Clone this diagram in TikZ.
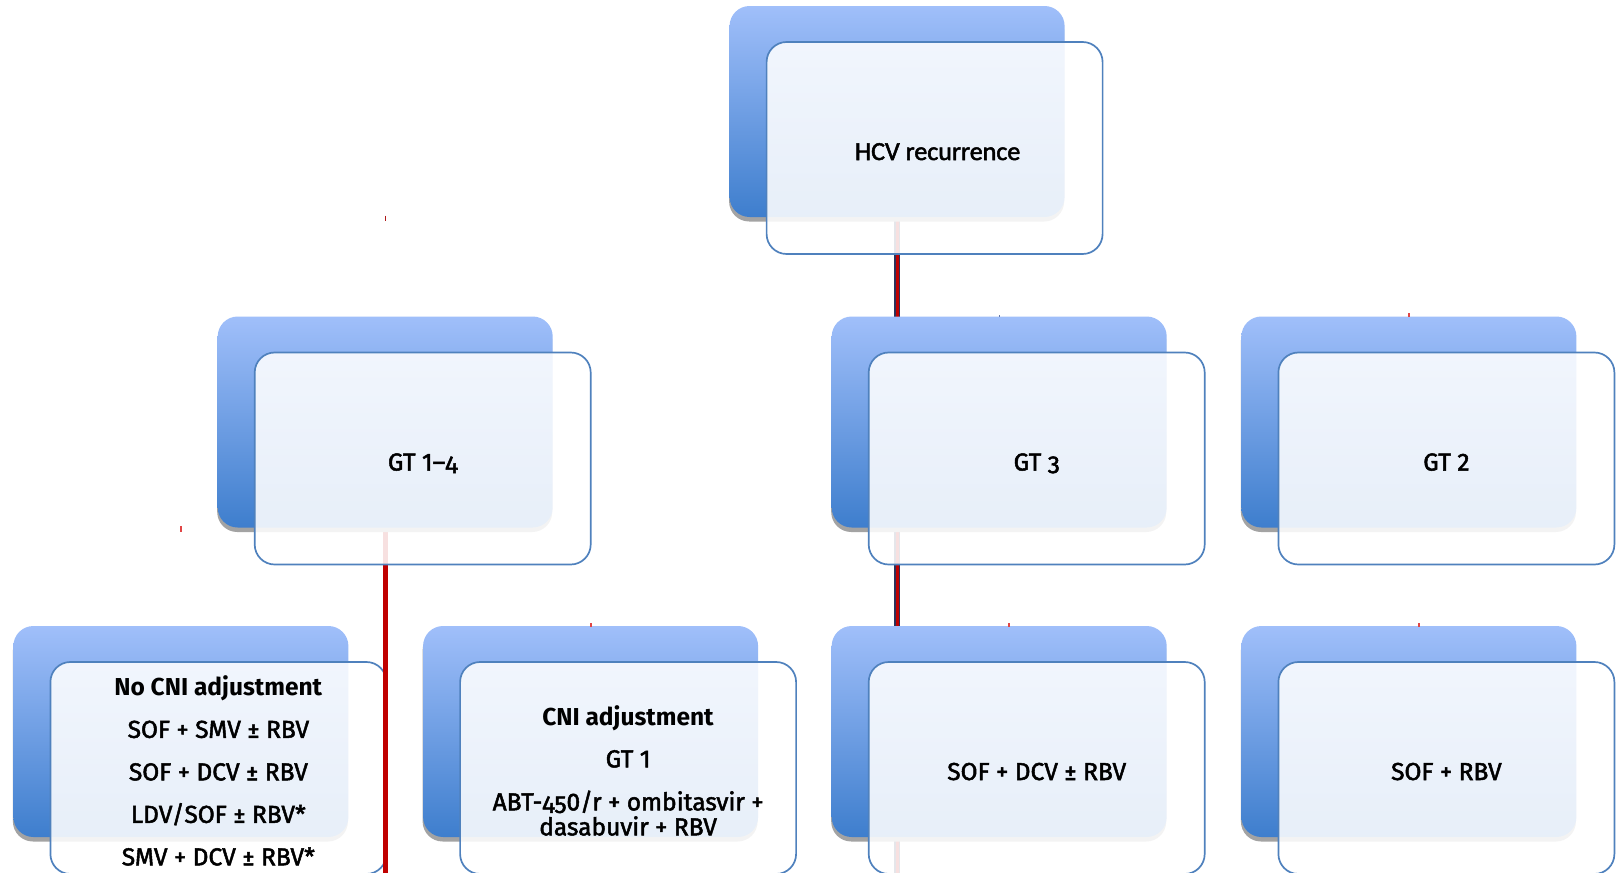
\documentclass[tikz,border=0pt]{standalone}
\usepackage{fontspec}
\setmainfont{Fira Sans}[UprightFeatures={FakeBold=2}]
\newfontfamily\osfont{Fira Sans}[Numbers=OldStyle,UprightFeatures={FakeBold=2}]
\newfontfamily\hcvfont{Carlito}[FakeBold=2]
\newcommand\olddig[1]{{\osfont #1}}
\usetikzlibrary{shadows,backgrounds}

\definecolor{bkTop}{RGB}{160,191,250}
\definecolor{bkBot}{RGB}{62,126,205}
\definecolor{frLine}{RGB}{79,129,189}
\definecolor{cRed}{RGB}{192,0,0}
\definecolor{cDark}{RGB}{45,50,90}
\definecolor{cTickR}{RGB}{225,70,70}
\definecolor{cTickB}{RGB}{100,120,170}
\definecolor{cTickD}{RGB}{175,25,25}

\begin{document}
\begin{tikzpicture}[x=1pt,y=-1pt,
  backbox/.style={rectangle, rounded corners=20pt, minimum width=335pt,
    minimum height=211pt, inner sep=0pt, outer sep=0pt, anchor=north west,
    top color=bkTop, bottom color=bkBot, draw=none,
    drop shadow={shadow xshift=-0.5pt, shadow yshift=-4.5pt, fill=black!36, opacity=1}},
  frontbox/.style={rectangle, rounded corners=20pt, minimum width=336pt,
    minimum height=212pt, inner sep=0pt, outer sep=0pt, anchor=north west,
    draw=frLine, line width=1.7pt, fill=white, fill opacity=0.88,
    text opacity=1, align=center, text=black,
    font=\fontsize{24.5}{29.4}\selectfont},
  oneline/.style={text height=24pt, text depth=0pt},
  redline/.style={draw=cRed, line width=5.4pt},
  darkline/.style={draw=cDark, line width=5.7pt},
  redcore/.style={draw=cRed, line width=3pt},
  tickr/.style={draw=cTickR, line width=1.8pt},
  tickb/.style={draw=cTickB, line width=1.3pt},
  tickd/.style={draw=cTickD, line width=1.3pt}
]
\useasboundingbox (0,0) rectangle (1618,873);
\coordinate (bot) at (0,873);

% row 1
\node[backbox] (b-hcv) at (729.6,6) {};
\node[frontbox, oneline, font=\hcvfont\fontsize{26}{31}\selectfont] (f-hcv)
  at ([xshift=37pt,yshift=-36pt]b-hcv.north west) {\hspace*{6pt}HCV recurrence};

% row 2
\node[backbox] (b-gt14) at (217.7,316.5) {};
\node[frontbox, oneline] (f-gt14) at ([xshift=37pt,yshift=-36pt]b-gt14.north west) {GT 1–\olddig{4}};
\node[backbox] (b-gt3) at (831.7,316.5) {};
\node[frontbox, oneline] (f-gt3) at ([xshift=37pt,yshift=-36pt]b-gt3.north west) {GT \olddig{3}};
\node[backbox] (b-gt2) at (1241.4,316.5) {};
\node[frontbox, oneline] (f-gt2) at ([xshift=37pt,yshift=-36pt]b-gt2.north west) {GT 2};

% row 3
\node[backbox] (b-nocni) at (13.4,626) {};
\node[frontbox, font=\fontsize{24.5}{42.5}\selectfont] (f-nocni)
  at ([xshift=37pt,yshift=-36pt]b-nocni.north west)
  {\rule{0pt}{25pt}\textbf{No CNI adjustment}\\SOF + SMV ± RBV\\SOF + DCV ± RBV\\LDV/SOF ± RBV*\\SMV + DCV ± RBV*};
\node[backbox] (b-cni) at (423.1,626) {};
\node[frontbox, font=\fontsize{24.5}{25}\selectfont] (f-cni)
  at ([xshift=37pt,yshift=-36pt]b-cni.north west)
  {\rule{0pt}{25pt}\textbf{CNI adjustment}\\[17pt]GT 1\\[18pt]ABT-\olddig{45}0/r + ombitasvir +\\dasabuvir + RBV};
\node[backbox] (b-sofdcv) at (831.7,626) {};
\node[frontbox, oneline] (f-sofdcv) at ([xshift=37pt,yshift=-36pt]b-sofdcv.north west) {SOF + DCV ± RBV};
\node[backbox] (b-sofrbv) at (1241.4,626) {};
\node[frontbox, oneline] (f-sofrbv) at ([xshift=37pt,yshift=-36pt]b-sofrbv.north west) {SOF + RBV};

% connectors behind the boxes
\begin{pgfonlayer}{background}
  \draw[darkline] (b-hcv.south) -- (b-hcv.south |- bot);
  \draw[redcore] (b-hcv.south) -- (b-hcv.south |- bot);
  \draw[redline] (b-gt14.south) -- (b-gt14.south |- bot);
\end{pgfonlayer}
% part of the GT 1-4 line that lies over the box edge
\draw[redline] (b-gt14.south |- f-nocni.north) -- (b-gt14.south |- bot);

% small connector stubs
\coordinate (s1) at (180.7,526);
\draw[tickr] (s1) -- ++(0,6);
\coordinate (s2) at (385.3,215.7);
\draw[tickd] (s2) -- ++(0,5.6);
\draw[tickr] ([yshift=3pt]b-cni.north) -- ([yshift=-1pt]b-cni.north);
\draw[tickb] ([yshift=1.5pt]b-gt3.north) -- ([yshift=-0.5pt]b-gt3.north);
\draw[tickr] ([yshift=3.5pt]b-gt2.north) -- ([yshift=0pt]b-gt2.north);
\draw[tickr] ([xshift=10pt,yshift=3pt]b-sofdcv.north) -- ([xshift=10pt,yshift=-1pt]b-sofdcv.north);
\draw[tickr] ([xshift=10pt,yshift=3pt]b-sofrbv.north) -- ([xshift=10pt,yshift=-1pt]b-sofrbv.north);
\end{tikzpicture}
\end{document}
